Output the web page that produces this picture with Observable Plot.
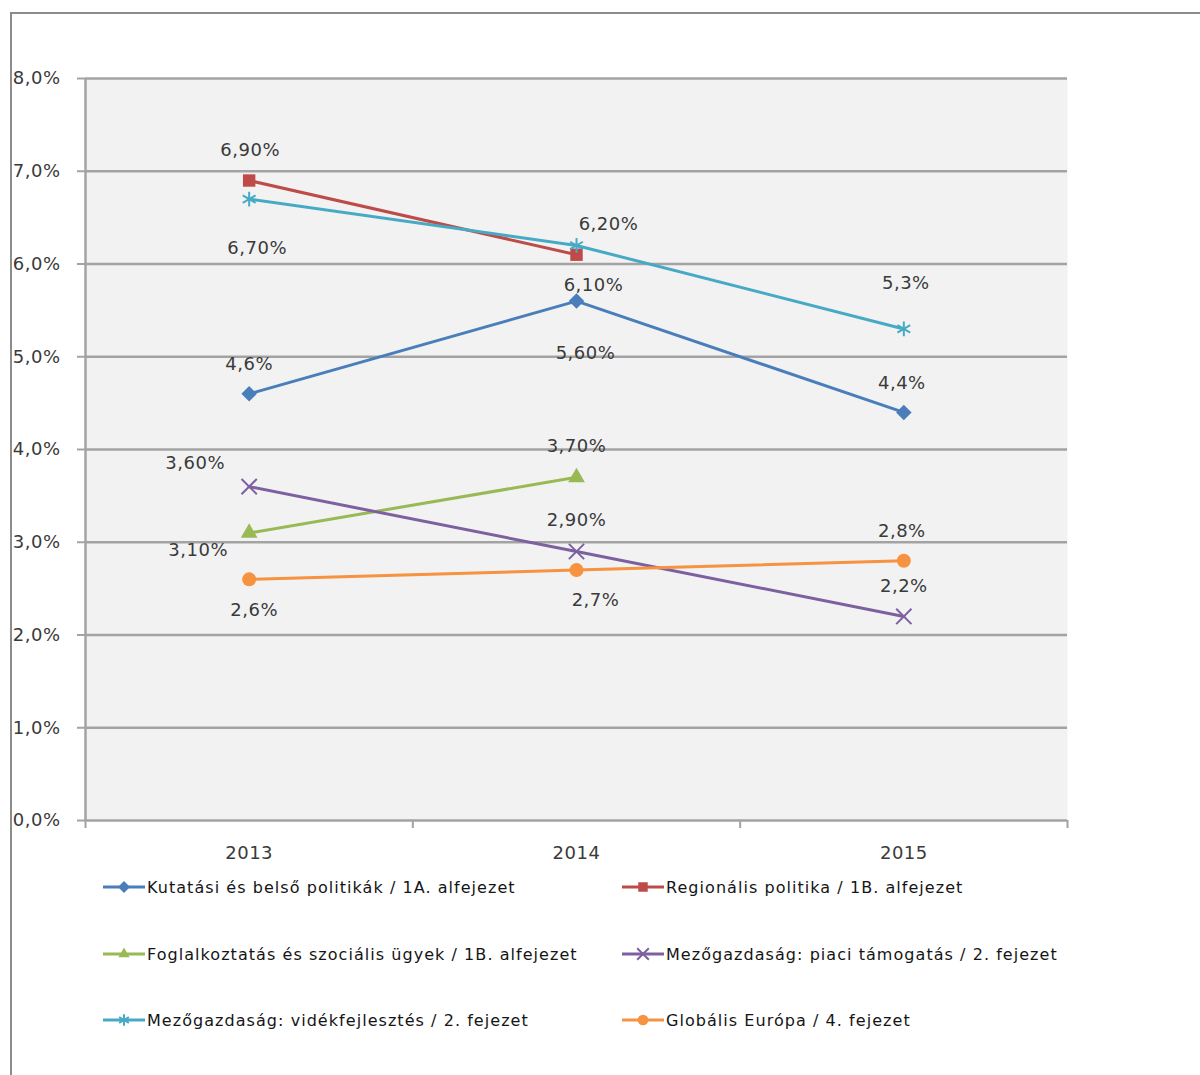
<!DOCTYPE html>
<html>
<head>
<meta charset="utf-8">
<script src="https://cdn.jsdelivr.net/npm/d3@7"></script>
<script src="https://cdn.jsdelivr.net/npm/@observablehq/plot@0.6"></script>
<style>
  html, body { margin: 0; padding: 0; background: #fff; }
  #wrap { position: relative; width: 1200px; height: 1075px; overflow: hidden; }
  #border { position: absolute; left: 10px; top: 12px; width: 1200px; height: 1100px;
            border-top: 2px solid #8c8c8c; border-left: 2px solid #8c8c8c; }
  #chart { position: absolute; left: 0; top: 0; }
  .leg { position: absolute; display: flex; align-items: center; height: 24px;
         font-family: "DejaVu Sans", sans-serif; font-size: 16px; color: #151515; letter-spacing: 1.05px; white-space: nowrap; }
  .leg svg { margin-right: 2px; }
</style>
</head>
<body>
<div id="wrap">
  <div id="border"></div>
  <div id="chart"></div>
  <div id="legend"></div>
</div>
<script>
// ---- data ----
const years = [2013, 2014, 2015];
const seriesNames = [
  "Kutatási és belső politikák / 1A. alfejezet",
  "Regionális politika / 1B. alfejezet",
  "Foglalkoztatás és szociális ügyek / 1B. alfejezet",
  "Mezőgazdaság: piaci támogatás / 2. fejezet",
  "Mezőgazdaság: vidékfejlesztés / 2. fejezet",
  "Globális Európa / 4. fejezet"
];
const kutatasi = [4.6, 5.6, 4.4];
const regionalis = [6.9, 6.1];
const foglalkoztatas = [3.1, 3.7];
const piaci = [3.6, 2.9, 2.2];
const videk = [6.7, 6.2, 5.3];
const globalis = [2.6, 2.7, 2.8];
const kutatasiLabels = ["4,6%", "5,60%", "4,4%"];
const regionalisLabels = ["6,90%", "6,10%"];
const foglalkoztatasLabels = ["3,10%", "3,70%"];
const piaciLabels = ["3,60%", "2,90%", "2,2%"];
const videkLabels = ["6,70%", "6,20%", "5,3%"];
const globalisLabels = ["2,6%", "2,7%", "2,8%"];
const yTicks = [0, 1, 2, 3, 4, 5, 6, 7, 8];

// ---- styles ----
const colors = ["#4a7ebb", "#be4b48", "#98b954", "#7d60a0", "#46aac5", "#f69240"];
const symbols = ["diamond2", "square", "triangle2", "times", "asterisk", "circle"];
const filledSymbol = [true, true, true, false, false, true];
const symbolSizes = [7, 7, 8, 7, 7, 7];
// label offsets [dx, dy] per point (placement style)
const labelOffsets = [
  [[0, -30], [9, 52], [-2, -29]],
  [[1, -30], [17, 31]],
  [[-51, 17], [0, -31]],
  [[-54, -23], [0, -31], [0, -30]],
  [[8, 49], [32, -21], [2, -46]],
  [[5, 31], [19, 30], [-2, -30]]
];

const values = [kutatasi, regionalis, foglalkoztatas, piaci, videk, globalis];
const labels = [kutatasiLabels, regionalisLabels, foglalkoztatasLabels, piaciLabels, videkLabels, globalisLabels];

const data = [];
values.forEach((vals, si) => {
  vals.forEach((v, i) => {
    data.push({series: seriesNames[si], si, year: years[i], value: v, label: labels[si][i],
               dx: labelOffsets[si][i][0], dy: labelOffsets[si][i][1]});
  });
});

const xDomain = [years[0] - 0.5, years[years.length - 1] + 0.5];
const boundaries = d3.range(xDomain[0], xDomain[1] + 0.01, 1);
const fmtY = d => d.toFixed(1).replace(".", ",") + "%";

const dotMarks = seriesNames.map((s, si) => Plot.dot(data.filter(d => d.si === si), {
  x: "year", y: "value",
  symbol: () => symbols[si],
  r: symbolSizes[si],
  fill: filledSymbol[si] ? colors[si] : "none",
  stroke: filledSymbol[si] ? "none" : colors[si],
  strokeWidth: 2
}));

const labelMarks = data.map(d => Plot.text([d], {
  x: "year", y: "value", text: "label", dx: d.dx, dy: d.dy,
  fill: "#3a3a3a", fontSize: 18, fontFamily: "DejaVu Sans"
}));

const chart = Plot.plot({
  width: 1200,
  height: 870,
  marginLeft: 85,
  marginRight: 133,
  marginTop: 78,
  marginBottom: 50,
  style: {fontFamily: "DejaVu Sans", fontSize: "18px", color: "#3a3a3a", letterSpacing: "0.5px", background: "transparent"},
  x: {type: "linear", domain: xDomain, label: null},
  y: {domain: [0, 8], label: null},
  symbol: {type: "identity"},
  marks: [
    Plot.frame({fill: "#f2f2f2", stroke: "none"}),
    Plot.gridY(yTicks, {stroke: "#a3a3a3", strokeOpacity: 1, strokeWidth: 2.5}),
    Plot.ruleX([xDomain[0]], {stroke: "#a3a3a3", strokeWidth: 2.5}),
    Plot.axisY({ticks: yTicks, tickSize: 8, tickPadding: 17, tickFormat: fmtY, stroke: "#a3a3a3", strokeWidth: 2, fill: "#3a3a3a", fontSize: 18, label: null}),
    Plot.axisX({ticks: boundaries, tickSize: 8, tickFormat: () => "", stroke: "#a3a3a3", strokeWidth: 2, label: null}),
    Plot.axisX({ticks: years, tickSize: 0, tickPadding: 26, tickFormat: d => String(d), fill: "#3a3a3a", fontSize: 18, label: null}),
    Plot.line(data, {x: "year", y: "value", z: "series", stroke: d => colors[d.si], strokeWidth: 3}),
    ...dotMarks,
    ...labelMarks
  ]
});
document.getElementById("chart").appendChild(chart);

// ---- legend ----
const legendPos = [
  [103, 887], [622, 887],
  [103, 954], [622, 954],
  [103, 1020], [622, 1020]
];
const legendOrder = [0, 1, 2, 3, 4, 5];
const legend = document.getElementById("legend");
legendOrder.forEach((si, k) => {
  const [lx, ly] = legendPos[k];
  const item = document.createElement("div");
  item.className = "leg";
  item.style.left = lx + "px";
  item.style.top = (ly - 12) + "px";
  const svg = d3.create("svg").attr("width", 42).attr("height", 24);
  svg.append("line").attr("x1", 0).attr("x2", 42).attr("y1", 12).attr("y2", 12)
    .attr("stroke", colors[si]).attr("stroke-width", 3);
  const sym = d3.symbol().type({
    diamond2: d3.symbolDiamond2, square: d3.symbolSquare, triangle2: d3.symbolTriangle2,
    times: d3.symbolTimes, asterisk: d3.symbolAsterisk, circle: d3.symbolCircle
  }[symbols[si]]).size(90);
  svg.append("path").attr("transform", "translate(21,12)").attr("d", sym())
    .attr("fill", filledSymbol[si] ? colors[si] : "none")
    .attr("stroke", filledSymbol[si] ? "none" : colors[si]).attr("stroke-width", 2);
  item.appendChild(svg.node());
  const span = document.createElement("span");
  span.textContent = seriesNames[si];
  item.appendChild(span);
  legend.appendChild(item);
});
</script>
</body>
</html>
